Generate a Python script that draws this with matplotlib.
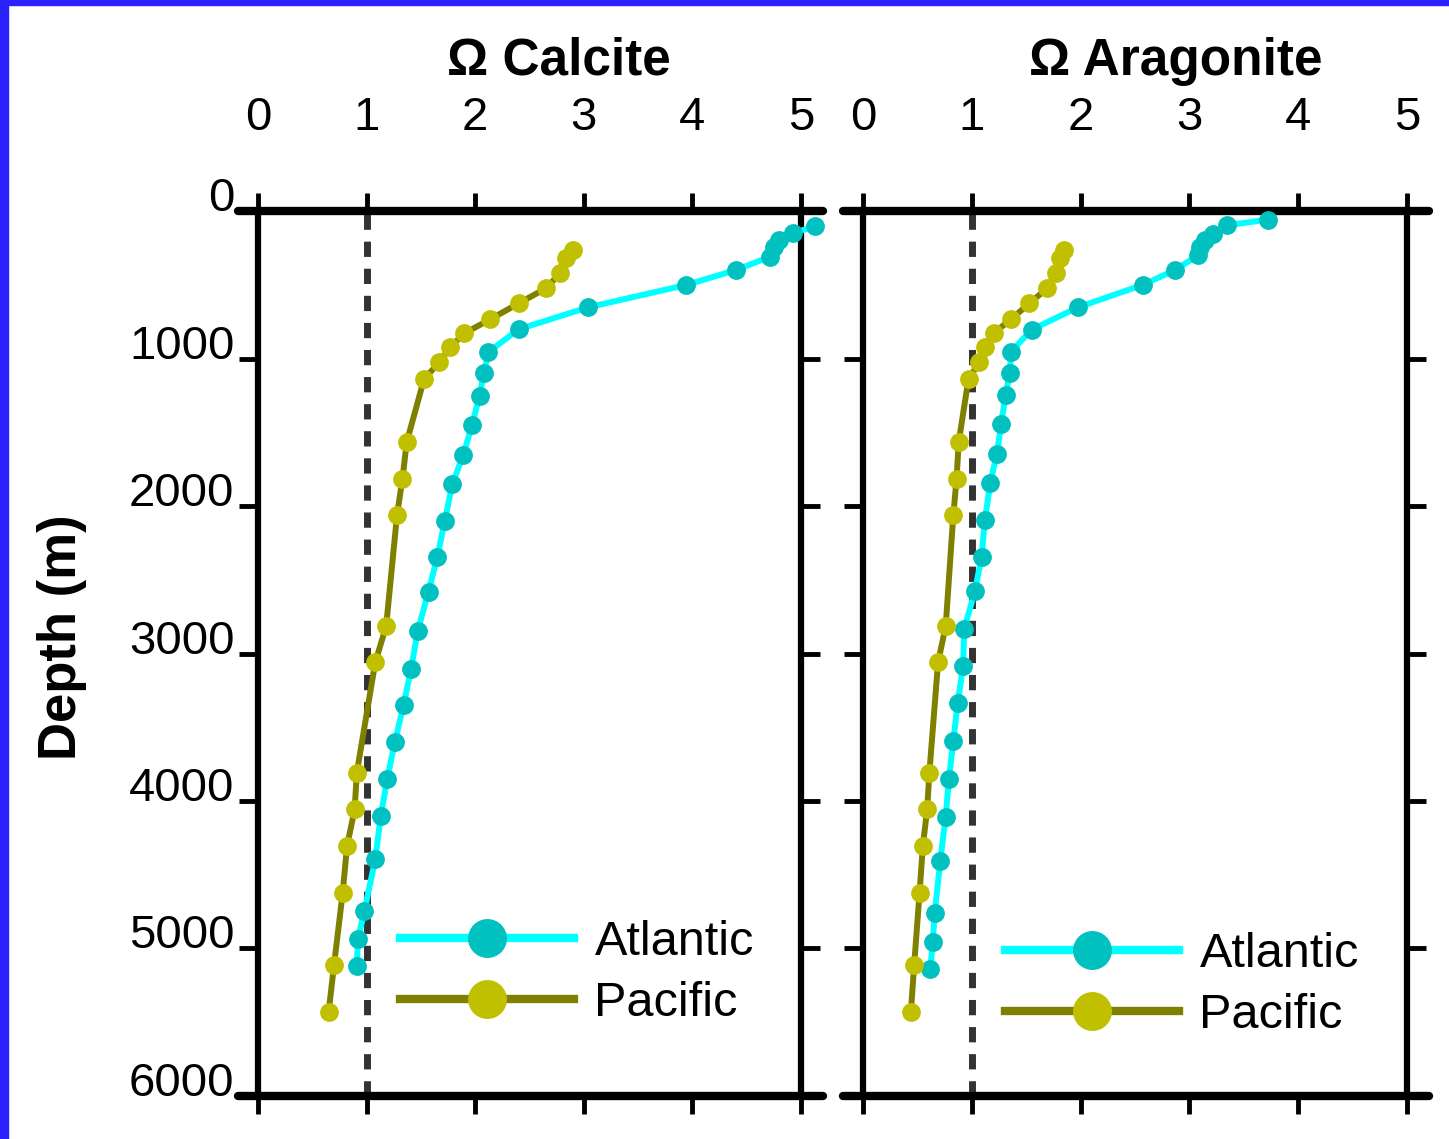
import matplotlib.pyplot as plt
from matplotlib.lines import Line2D
from matplotlib.patches import Rectangle

plt.rcParams['font.family'] = ['Liberation Sans', 'DejaVu Sans']

# Atlantic, calcite
atl_cal_depth = [104, 149, 194, 243, 311, 401, 502, 653, 802, 957, 1099, 1252, 1453, 1655,
                 1849, 2101, 2349, 2580, 2849, 3104, 3350, 3600, 3849, 4102, 4395, 4745,
                 4937, 5117]
atl_cal = [5.13, 4.93, 4.80, 4.75, 4.71, 4.40, 3.94, 3.04, 2.40, 2.12, 2.08, 2.04, 1.97, 1.89,
           1.79, 1.72, 1.65, 1.57, 1.47, 1.41, 1.34, 1.26, 1.19, 1.13, 1.08, 0.98,
           0.92, 0.91]

# Atlantic, aragonite
atl_ara_depth = [58, 97, 153, 198, 243, 299, 400, 501, 652, 804, 955, 1097, 1249, 1445,
                 1647, 1843, 2097, 2344, 2573, 2833, 3085, 3337, 3594, 3849, 4106, 4404,
                 4759, 4954, 5138]
atl_ara = [3.72, 3.35, 3.22, 3.14, 3.10, 3.08, 2.87, 2.57, 1.98, 1.55, 1.36, 1.35, 1.31, 1.27,
           1.23, 1.17, 1.12, 1.09, 1.03, 0.93, 0.92, 0.87, 0.83, 0.79, 0.76, 0.71,
           0.66, 0.64, 0.62]

# Pacific (same stations for both minerals)
pac_depth = [266, 320, 423, 525, 626, 734, 829, 923, 1027, 1137, 1565, 1815, 2063, 2815,
             3059, 3808, 4056, 4305, 4621, 5113, 5433]
pac_cal = [2.90, 2.84, 2.78, 2.65, 2.40, 2.14, 1.90, 1.77, 1.67, 1.53, 1.37, 1.33, 1.28, 1.18,
           1.08, 0.91, 0.89, 0.82, 0.78, 0.70, 0.65]
pac_ara = [1.85, 1.81, 1.77, 1.69, 1.53, 1.36, 1.20, 1.12, 1.07, 0.97, 0.88, 0.86, 0.83, 0.76,
           0.69, 0.61, 0.59, 0.55, 0.52, 0.47, 0.44]

titles = [u'\u03a9 Calcite', u'\u03a9 Aragonite']
omega_ticks = [0, 1, 2, 3, 4, 5]
depth_ticks = [0, 1000, 2000, 3000, 4000, 5000, 6000]
series_names = ['Atlantic', 'Pacific']

ATL_LINE = '#00ffff'
ATL_DOT = '#00c0c0'
PAC_LINE = '#808000'
PAC_DOT = '#c0c000'

fig = plt.figure(figsize=(14.49, 11.39), dpi=100)
fig.patches.append(Rectangle((0, 0), 8/1449, 1, transform=fig.transFigure,
                             color='#2b22ff', zorder=0))
fig.patches.append(Rectangle((0, 1-5/1139), 1, 5/1139, transform=fig.transFigure,
                             color='#2b22ff', zorder=0))

ax1 = fig.add_axes([258/1449, 1-1096/1139, 543/1449, 885/1139])
ax2 = fig.add_axes([863/1449, 1-1096/1139, 544/1449, 885/1139])

panels = [
    (ax1, atl_cal_depth, atl_cal, pac_cal, 0.554, (0.2615, 0.139)),
    (ax2, atl_ara_depth, atl_ara, pac_ara, 0.575, (0.261, 0.125)),
]

for i, (ax, a_depth, a_val, p_val, tx, lpos) in enumerate(panels):
    ax.axvline(1, color='#333333', lw=5, ls=(0, (2.2, 1.7)), zorder=1)
    ax.plot(a_val, a_depth, color=ATL_LINE, lw=4.3, marker='o', ms=12.5,
            mfc=ATL_DOT, mec=ATL_DOT, zorder=3, clip_on=False)
    ax.plot(p_val, pac_depth, color=PAC_LINE, lw=4.3, marker='o', ms=12.5,
            mfc=PAC_DOT, mec=PAC_DOT, zorder=3, clip_on=False)

    ax.set_xlim(0, 5)
    ax.set_ylim(6000, 0)
    ax.set_xticks(omega_ticks)
    ax.set_yticks(depth_ticks)
    ax.xaxis.tick_top()
    ax.tick_params(axis='x', which='both', top=True, bottom=True, direction='out',
                   length=13, width=3.5, labelsize=34, pad=38)
    ax.tick_params(axis='y', which='both', left=True, right=True, direction='out',
                   length=14, width=3.5, labelsize=34, pad=3)
    if i == 1:
        ax.tick_params(axis='y', labelleft=False)
    else:
        for lab in ax.get_yticklabels():
            lab.set_verticalalignment('baseline')

    for s in ['left', 'right']:
        ax.spines[s].set_linewidth(4.5)
    for s in ['top', 'bottom']:
        ax.spines[s].set_visible(False)
    # top and bottom frame lines run a little past the corners
    for yy in [0, 1]:
        ax.add_line(Line2D([-0.037, 1.04], [yy, yy], transform=ax.transAxes,
                           color='k', lw=6, clip_on=False, solid_capstyle='round'))

    ax.text(tx, 1.1537, titles[i], transform=ax.transAxes, ha='center', va='baseline',
            fontsize=37, fontweight='bold')

    handles = [
        Line2D([], [], color=ATL_LINE, lw=6, marker='o', ms=27, mfc=ATL_DOT, mec=ATL_DOT),
        Line2D([], [], color=PAC_LINE, lw=6, marker='o', ms=27, mfc=PAC_DOT, mec=PAC_DOT),
    ]
    ax.legend(handles, series_names, loc='center left', bbox_to_anchor=lpos,
              frameon=False, fontsize=35, handlelength=3.57, handletextpad=0.43,
              labelspacing=0.33, borderpad=0, borderaxespad=0)

fig.text(62/1449, 1-637/1139, 'Depth (m)', rotation=90, ha='center', va='center',
         fontsize=38, fontweight='bold')

plt.savefig('out.png', dpi=100)
